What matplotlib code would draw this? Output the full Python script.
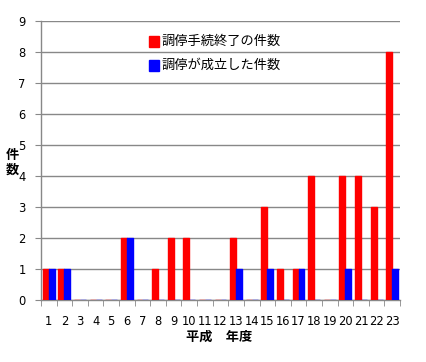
import matplotlib
matplotlib.use("Agg")
import matplotlib.pyplot as plt
import numpy as np

years = [str(i) for i in range(1, 24)]
ended = [1, 1, 0, 0, 0, 2, 0, 1, 2, 2, 0, 0, 2, 0, 3, 1, 1, 4, 0, 4, 4, 3, 8]
settled = [1, 1, 0, 0, 0, 2, 0, 0, 0, 0, 0, 0, 1, 0, 1, 0, 1, 0, 0, 1, 0, 0, 1]
label_ended = "調停手続終了の件数"
label_settled = "調停が成立した件数"

plt.rcParams['font.family'] = ['Noto Sans CJK JP', 'DejaVu Sans']

fig = plt.figure(figsize=(4.26, 3.62), dpi=100)
ax = fig.add_axes([41/426, 1 - 300/362, (400-41)/426, (300-21)/362])

x = np.arange(len(years))
w = 0.38
ax.bar(x - w/2, ended, width=w, color='#ff0000', edgecolor='#ff0000', linewidth=1.0, joinstyle='round', zorder=3)
ax.bar(x + w/2, settled, width=w, color='#0000ff', edgecolor='#0000ff', linewidth=1.0, joinstyle='round', zorder=3)

ax.set_xlim(-0.5, len(years) - 0.5)
ax.set_ylim(0, 9)
ax.set_yticks(range(0, 10))
ax.yaxis.grid(True, color='#888888', linewidth=1.0, zorder=0)
ax.set_axisbelow(True)

ax.set_xticks(x)
ax.set_xticklabels(years, fontsize=8.3, family='DejaVu Sans')
ax.set_xticks(np.arange(-0.5, len(years), 1), minor=True)
ax.tick_params(axis='x', which='major', length=0, pad=11)
ax.tick_params(axis='x', which='minor', length=4, color='#888888', direction='out')
ax.tick_params(axis='y', length=4, color='#888888', labelsize=8.3, pad=7)
for lab in ax.get_yticklabels():
    lab.set_family('DejaVu Sans')

for s in ['top', 'right']:
    ax.spines[s].set_visible(False)
for s in ['left', 'bottom']:
    ax.spines[s].set_color('#888888')
    ax.spines[s].set_linewidth(1.0)

fig.text(12.5/426, 1 - 162/362, "件\n数", fontsize=9.5, fontweight='bold', ha='center', va='center', linespacing=1.05)
fig.text(219/426, 1 - 337/362, "平成\u3000年度", fontsize=9.5, fontweight='bold', ha='center', va='center')

# legend
for yy, col, lab in [(41.5, '#ff0000', label_ended), (65, '#0000ff', label_settled)]:
    fig.patches.append(plt.Rectangle((149/426, 1 - (yy + 5.5)/362), 10/426, 11/362,
                                     transform=fig.transFigure, color=col, figure=fig))
    fig.text(161/426, 1 - yy/362, lab, fontsize=9.5, ha='left', va='center')

fig.savefig("out.png", dpi=100)
